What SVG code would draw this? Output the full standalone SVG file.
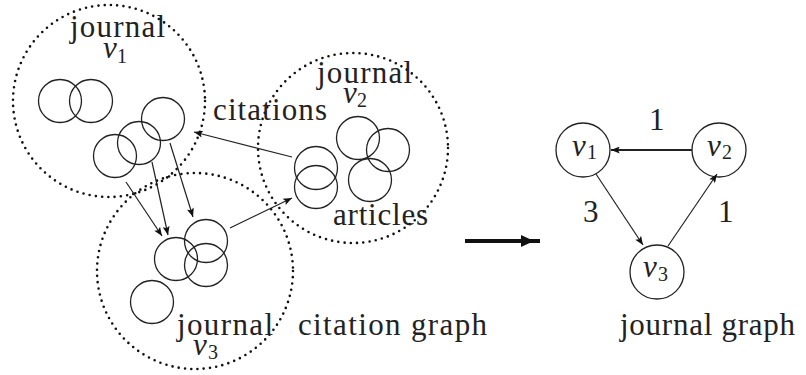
<svg xmlns="http://www.w3.org/2000/svg" width="806" height="375" viewBox="0 0 806 375">
<defs>
<style>
.dot{fill:none;stroke:#111;stroke-width:2.6;stroke-dasharray:0 6.3;stroke-linecap:round}
.art{fill:none;stroke:#222;stroke-width:1.3}
.node{fill:#fff;stroke:#222;stroke-width:1.3}
.edge{fill:none;stroke:#222;stroke-width:1.2}
.t{font-family:'Liberation Serif',serif;font-size:31px;fill:#222}
.v{font-family:'Liberation Serif',serif;font-style:italic;font-size:31px;fill:#222}
.s{font-family:'Liberation Serif',serif;font-size:20px;fill:#222}
</style>
<marker id="ah" viewBox="0 0 10 8" refX="10" refY="4" markerWidth="10" markerHeight="7" markerUnits="userSpaceOnUse" orient="auto">
<path d="M0,0 L10,4 L0,8 L2,4 Z" fill="#111"/>
</marker>
</defs>
<rect width="806" height="375" fill="#fff"/>

<g id="journal-v1">
<circle class="dot" cx="109" cy="101" r="96"/>
<circle class="art" cx="60" cy="101" r="21.5"/>
<circle class="art" cx="91" cy="101" r="21.5"/>
<circle class="art" cx="115" cy="156" r="21.5"/>
<circle class="art" cx="139" cy="143" r="21.5"/>
<circle class="art" cx="163" cy="119" r="21.5"/>
<text class="t" x="70" y="37" textLength="95" lengthAdjust="spacing">journal</text>
<text class="v" x="103" y="58">v</text><text class="s" x="117" y="63">1</text>
</g>

<g id="journal-v2">
<circle class="dot" cx="353" cy="148" r="95"/>
<circle class="art" cx="316" cy="168" r="21.5"/>
<circle class="art" cx="316" cy="187" r="21.5"/>
<circle class="art" cx="358" cy="138" r="21.5"/>
<circle class="art" cx="388" cy="150" r="21.5"/>
<circle class="art" cx="370" cy="180" r="21.5"/>
<text class="t" x="317" y="83" textLength="95" lengthAdjust="spacing">journal</text>
<text class="v" x="343" y="103">v</text><text class="s" x="357" y="107">2</text>
<text class="t" x="333" y="225" textLength="95" lengthAdjust="spacing">articles</text>
</g>

<g id="journal-v3">
<circle class="dot" cx="195" cy="271" r="98"/>
<circle class="art" cx="176" cy="259" r="21.5"/>
<circle class="art" cx="206" cy="241" r="21.5"/>
<circle class="art" cx="206" cy="265" r="21.5"/>
<circle class="art" cx="152" cy="302" r="21.5"/>
<text class="t" x="177" y="335" textLength="96" lengthAdjust="spacing">journal</text>
<text class="v" x="193" y="355">v</text><text class="s" x="208" y="359">3</text>
</g>

<g id="citations-label">
<text class="t" x="213" y="120" textLength="114" lengthAdjust="spacing">citations</text>
</g>

<g id="graph-labels">
<text class="t" x="298" y="335" textLength="189" lengthAdjust="spacing">citation graph</text>
<text class="t" x="620" y="335" textLength="175" lengthAdjust="spacing">journal graph</text>
</g>

<g id="node-v1">
<circle class="node" cx="583" cy="150" r="27"/>
<text class="v" x="572" y="156">v</text><text class="s" x="587" y="159">1</text>
</g>
<g id="node-v2">
<circle class="node" cx="719" cy="150" r="27"/>
<text class="v" x="707" y="156">v</text><text class="s" x="722" y="159">2</text>
</g>
<g id="node-v3">
<circle class="node" cx="657" cy="272" r="27"/>
<text class="v" x="643" y="277">v</text><text class="s" x="658" y="281">3</text>
</g>

<g id="connectors">
<line class="edge" x1="126" y1="182" x2="162" y2="236" marker-end="url(#ah)"/>
<line class="edge" x1="152" y1="162" x2="168" y2="235" marker-end="url(#ah)"/>
<line class="edge" x1="170" y1="143" x2="193" y2="217" marker-end="url(#ah)"/>
<line class="edge" x1="292" y1="157" x2="194" y2="132" marker-end="url(#ah)"/>
<line class="edge" x1="230" y1="228" x2="292" y2="198" marker-end="url(#ah)"/>
<line class="edge" x1="692" y1="150" x2="611" y2="150" style="stroke-width:2.2" marker-end="url(#ah)"/>
<line class="edge" x1="596" y1="174" x2="643" y2="245" marker-end="url(#ah)"/>
<line class="edge" x1="668" y1="246" x2="717" y2="174" marker-end="url(#ah)"/>
<line x1="465" y1="241" x2="540" y2="241" stroke="#111" stroke-width="4"/>
<polygon points="521,235 534,241 521,247" fill="#111"/>
</g>

<g id="edge-labels">
<text class="t" x="649" y="130">1</text>
<text class="t" x="583" y="222">3</text>
<text class="t" x="718" y="222">1</text>
</g>
</svg>
